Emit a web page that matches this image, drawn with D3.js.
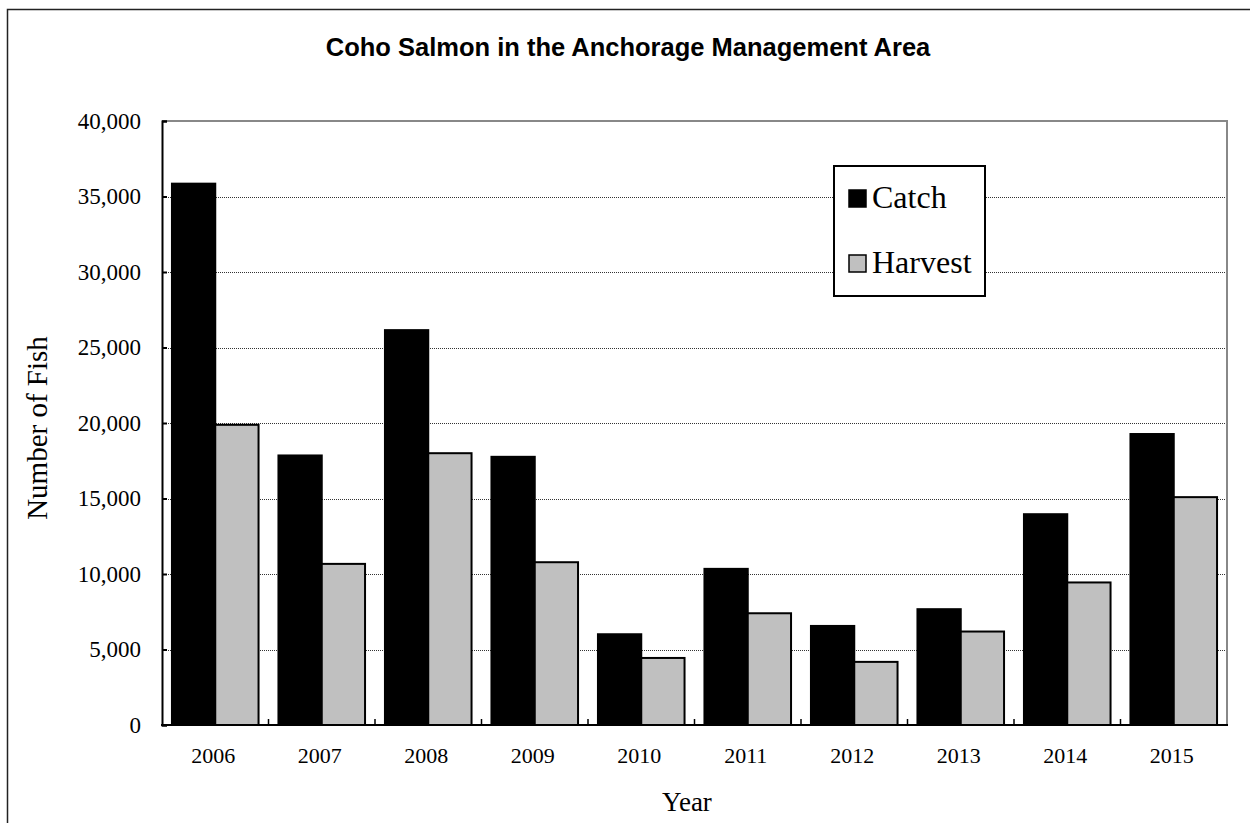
<!DOCTYPE html>
<html>
<head>
<meta charset="utf-8">
<script src="https://cdn.jsdelivr.net/npm/d3@7"></script>
<style>
  html, body { margin: 0; padding: 0; background: #fff; }
  svg { display: block; }
</style>
</head>
<body>
<div id="chart"></div>
<script>
// chart data
var years = ['2006', '2007', '2008', '2009', '2010', '2011', '2012', '2013', '2014', '2015'];
var catchValues = [35850, 17850, 26150, 17760, 6010, 10340, 6560, 7670, 13960, 19270];
var harvestValues = [19880, 10670, 18000, 10780, 4440, 7400, 4180, 6190, 9440, 15090];
var seriesNames = ['Catch', 'Harvest'];
var yTicks = [0, 5000, 10000, 15000, 20000, 25000, 30000, 35000, 40000];

var width = 1250, height = 823;
var plot = { left: 162, right: 1227, top: 121, bottom: 725 };
var serif = '"Liberation Serif", "Times New Roman", serif';
var sans = '"Liberation Sans", Arial, sans-serif';

var svg = d3.select('#chart').append('svg')
  .attr('width', width)
  .attr('height', height);

// outer chart frame (runs off the right and bottom of the picture)
svg.append('path')
  .attr('d', 'M7.5,' + height + 'V9.5H' + width)
  .attr('fill', 'none')
  .attr('stroke', '#222')
  .attr('stroke-width', 1.5);

// title
svg.append('text')
  .attr('x', 628)
  .attr('y', 56)
  .attr('text-anchor', 'middle')
  .style('font-family', sans)
  .style('font-weight', 'bold')
  .style('font-size', '25.5px')
  .text('Coho Salmon in the Anchorage Management Area');

var x0 = d3.scaleBand()
  .domain(years)
  .range([plot.left, plot.right])
  .padding(0);

var x1 = d3.scaleBand()
  .domain(seriesNames)
  .range([0, x0.bandwidth()])
  .paddingInner(0)
  .paddingOuter(0.23);

var y = d3.scaleLinear()
  .domain([0, 40000])
  .range([plot.bottom, plot.top]);

// dotted gridlines
svg.append('g')
  .selectAll('line')
  .data(yTicks.filter(function(d) { return d > 0 && d < 40000; }))
  .enter().append('line')
  .attr('x1', plot.left)
  .attr('x2', plot.right)
  .attr('y1', function(d) { return Math.round(y(d)) + 0.5; })
  .attr('y2', function(d) { return Math.round(y(d)) + 0.5; })
  .attr('stroke', '#333')
  .attr('stroke-width', 1)
  .attr('stroke-dasharray', '1,1');

// gray top / right border of the plot area
svg.append('path')
  .attr('d', 'M' + plot.left + ',' + plot.top + 'H' + plot.right + 'V' + plot.bottom)
  .attr('fill', 'none')
  .attr('stroke', '#888')
  .attr('stroke-width', 2);

// bars
var rows = years.map(function(yr, i) {
  return { year: yr, values: [
    { key: 'Catch', value: catchValues[i] },
    { key: 'Harvest', value: harvestValues[i] }
  ] };
});

var fills = { Catch: '#000', Harvest: '#c0c0c0' };

svg.append('g')
  .selectAll('g')
  .data(rows)
  .enter().append('g')
  .attr('transform', function(d) { return 'translate(' + x0(d.year) + ',0)'; })
  .selectAll('rect')
  .data(function(d) { return d.values; })
  .enter().append('rect')
  .attr('x', function(d) { return x1(d.key); })
  .attr('y', function(d) { return y(d.value); })
  .attr('width', x1.bandwidth())
  .attr('height', function(d) { return y(0) - y(d.value); })
  .attr('fill', function(d) { return fills[d.key]; })
  .attr('stroke', '#000')
  .attr('stroke-width', 2);

// y axis, ticks pointing into the plot
var yAxis = svg.append('g')
  .attr('transform', 'translate(' + plot.left + ',0)')
  .call(d3.axisLeft(y).tickValues(yTicks).tickSize(-5).tickPadding(21)
    .tickFormat(d3.format(',')));
yAxis.select('.domain').attr('stroke', '#000').attr('stroke-width', 2);
yAxis.selectAll('.tick line').attr('stroke', '#000').attr('stroke-width', 2);
yAxis.selectAll('text')
  .style('font-family', serif)
  .style('font-size', '23px')
  .attr('fill', '#000');

// x axis: ticks at category boundaries, labels at centres
svg.append('g')
  .selectAll('line')
  .data(years.slice(1))
  .enter().append('line')
  .attr('x1', function(d) { return x0(d); })
  .attr('x2', function(d) { return x0(d); })
  .attr('y1', plot.bottom)
  .attr('y2', plot.bottom - 6)
  .attr('stroke', '#000')
  .attr('stroke-width', 1.5);

svg.append('line')
  .attr('x1', plot.left - 1)
  .attr('x2', plot.right + 1)
  .attr('y1', plot.bottom)
  .attr('y2', plot.bottom)
  .attr('stroke', '#000')
  .attr('stroke-width', 2);

svg.append('g')
  .selectAll('text')
  .data(years)
  .enter().append('text')
  .attr('x', function(d) { return x0(d) + x0.bandwidth() / 2 - 2; })
  .attr('y', 763)
  .attr('text-anchor', 'middle')
  .style('font-family', serif)
  .style('font-size', '22px')
  .text(function(d) { return d; });

// axis titles
svg.append('text')
  .attr('x', 687)
  .attr('y', 811)
  .attr('text-anchor', 'middle')
  .style('font-family', serif)
  .style('font-size', '27px')
  .text('Year');

svg.append('text')
  .attr('transform', 'translate(47,' + ((plot.top + plot.bottom) / 2 + 5) + ') rotate(-90)')
  .attr('text-anchor', 'middle')
  .style('font-family', serif)
  .style('font-size', '29px')
  .text('Number of Fish');

// legend
var legend = svg.append('g').attr('transform', 'translate(834,166)');
legend.append('rect')
  .attr('width', 151)
  .attr('height', 130)
  .attr('fill', '#fff')
  .attr('stroke', '#000')
  .attr('stroke-width', 2);

var item = legend.selectAll('g.item')
  .data(seriesNames)
  .enter().append('g')
  .attr('class', 'item')
  .attr('transform', function(d, i) { return 'translate(15,' + (24 + i * 65) + ')'; });

item.append('rect')
  .attr('width', 17)
  .attr('height', 17)
  .attr('fill', function(d) { return fills[d]; })
  .attr('stroke', '#000')
  .attr('stroke-width', 1.5);

item.append('text')
  .attr('x', 23)
  .attr('y', 18)
  .style('font-family', serif)
  .style('font-size', '32px')
  .text(function(d) { return d; });
</script>
</body>
</html>
